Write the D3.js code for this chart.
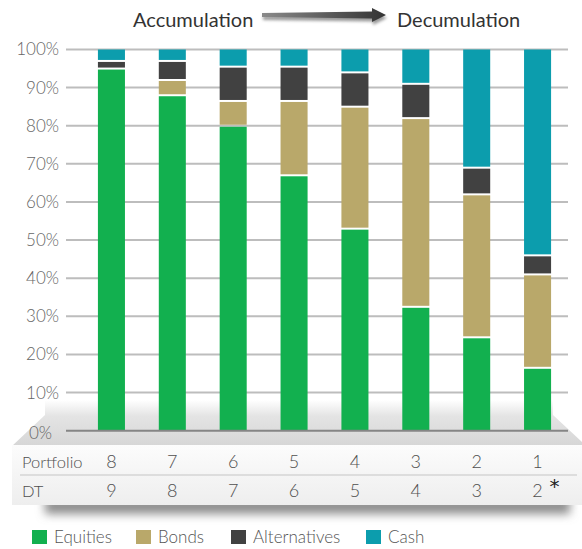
<!DOCTYPE html>
<html>
<head>
<meta charset="utf-8">
<script src="https://cdn.jsdelivr.net/npm/d3@7"></script>
<style>
  body { margin: 0; background: #fff; }
  svg { display: block; font-family: "Lato", "Noto Sans", sans-serif; }
</style>
</head>
<body>
<div id="chart"></div>
<script>
// data
const portfolios = ["8", "7", "6", "5", "4", "3", "2", "1"];
const dtLabels = ["9", "8", "7", "6", "5", "4", "3", "2"];
const equities =     [95, 88, 80,  67,  53, 32.5, 24.5, 16.5];
const bonds =        [0,  4,  6.5, 19.5, 32, 49.5, 37.5, 24.5];
const alternatives = [2,  5,  9,   9,   9,  9,    7,    5];
const cash =         [3,  3,  4.5, 4.5, 6,  9,    31,   54];
const yTicks = [10, 20, 30, 40, 50, 60, 70, 80, 90, 100];
const seriesNames = ["Equities", "Bonds", "Alternatives", "Cash"];
const seriesColors = ["#12b04f", "#b9a86a", "#414141", "#0c9dad"];

const W = 582, H = 549;

const svg = d3.select("#chart").append("svg")
  .attr("width", W)
  .attr("height", H);

const defs = svg.append("defs");

// gradients / filters for the "platform" look
const platGrad = defs.append("linearGradient").attr("id", "plat")
  .attr("x1", 0).attr("y1", 0).attr("x2", 0).attr("y2", 1);
platGrad.append("stop").attr("offset", "0%").attr("stop-color", "#ffffff");
platGrad.append("stop").attr("offset", "35%").attr("stop-color", "#e4e4e4");
platGrad.append("stop").attr("offset", "100%").attr("stop-color", "#d6d6d6");

const panelGrad = defs.append("linearGradient").attr("id", "panel")
  .attr("x1", 0).attr("y1", 0).attr("x2", 0).attr("y2", 1);
panelGrad.append("stop").attr("offset", "0%").attr("stop-color", "#fcfcfc");
panelGrad.append("stop").attr("offset", "100%").attr("stop-color", "#eeeeee");

const arrowGrad = defs.append("linearGradient").attr("id", "arrowg")
  .attr("x1", 0).attr("y1", 0).attr("x2", 1).attr("y2", 0);
arrowGrad.append("stop").attr("offset", "0%").attr("stop-color", "#8a8a8a");
arrowGrad.append("stop").attr("offset", "100%").attr("stop-color", "#333333");

defs.append("filter").attr("id", "blur")
  .attr("x", "-20%").attr("y", "-100%").attr("width", "140%").attr("height", "300%")
  .append("feGaussianBlur").attr("stdDeviation", 5);
defs.append("filter").attr("id", "blur2")
  .attr("x", "-20%").attr("y", "-100%").attr("width", "140%").attr("height", "300%")
  .append("feGaussianBlur").attr("stdDeviation", 1.5);

// scales
const x = d3.scaleBand()
  .domain(portfolios)
  .range([81, 568])
  .paddingInner(0.556)
  .paddingOuter(0.278);

const y = d3.scaleLinear()
  .domain([0, 100])
  .range([430.7, 49.5]);

// platform under the plot
svg.append("path")
  .attr("d", "M45,400 L553,400 L553,415 L582,442 L582,446 L12,446 L45,415 Z")
  .attr("fill", "url(#plat)");

// shadow under the table panel
svg.append("rect")
  .attr("x", 45).attr("y", 498).attr("width", 525).attr("height", 16)
  .attr("fill", "#8d8d8d")
  .attr("filter", "url(#blur)");

// table panel
svg.append("rect")
  .attr("x", 12).attr("y", 445).attr("width", 570).attr("height", 60)
  .attr("fill", "url(#panel)");

svg.append("line")
  .attr("x1", 20).attr("x2", 577)
  .attr("y1", 475).attr("y2", 475)
  .attr("stroke", "#d4d4d4").attr("stroke-width", 1.5);

// gridlines
svg.append("g")
  .selectAll("line")
  .data(yTicks)
  .join("line")
    .attr("x1", 66).attr("x2", 568)
    .attr("y1", d => y(d)).attr("y2", d => y(d))
    .attr("stroke", "#bdbdbd")
    .attr("stroke-width", 2);

// y labels
const yLab = svg.append("g")
  .attr("font-size", 17)
  .attr("font-weight", 300)
  .attr("fill", "#666")
  .attr("text-anchor", "end");
yLab.selectAll("text")
  .data(yTicks)
  .join("text")
    .attr("x", 59)
    .attr("y", d => y(d))
    .attr("dy", "0.35em")
    .text(d => d + "%");
yLab.append("text")
  .attr("x", 52).attr("y", y(0) + 2)
  .attr("dy", "0.35em")
  .text("0%");

// stacked bars
const rows = portfolios.map((p, i) => ({
  portfolio: p,
  Equities: equities[i],
  Bonds: bonds[i],
  Alternatives: alternatives[i],
  Cash: cash[i]
}));

const color = d3.scaleOrdinal()
  .domain(seriesNames)
  .range(seriesColors);

const stackedData = d3.stack().keys(seriesNames)(rows);

svg.append("g")
  .selectAll("g")
  .data(stackedData)
  .join("g")
    .attr("fill", d => color(d.key))
  .selectAll("rect")
  .data(d => d.filter(s => s[1] - s[0] > 0))
  .join("rect")
    .attr("x", d => x(d.data.portfolio))
    .attr("width", x.bandwidth())
    .attr("y", d => y(d[1]) + (d[1] < 99.9 ? 1 : 0))
    .attr("height", d => (y(d[0]) - y(d[1])) - (d[1] < 99.9 ? 1 : 0) - (d[0] > 0 ? 1 : 0));

// 0% axis line
svg.append("line")
  .attr("x1", 66).attr("x2", 568)
  .attr("y1", y(0)).attr("y2", y(0))
  .attr("stroke", "#858585")
  .attr("stroke-width", 2);

// table text
const tbl = svg.append("g")
  .attr("font-size", 18)
  .attr("font-weight", 300)
  .attr("fill", "#4f4f4f");
tbl.append("text").attr("x", 22).attr("y", 468).attr("font-size", 16.5).text("Portfolio");
tbl.append("text").attr("x", 22).attr("y", 497).attr("font-size", 16.5).text("DT");
tbl.selectAll(".pf")
  .data(portfolios)
  .join("text")
    .attr("class", "pf")
    .attr("x", d => x(d) + x.bandwidth() / 2)
    .attr("y", 468)
    .attr("text-anchor", "middle")
    .text(d => d);
tbl.selectAll(".dt")
  .data(dtLabels)
  .join("text")
    .attr("class", "dt")
    .attr("x", (d, i) => x(portfolios[i]) + x.bandwidth() / 2)
    .attr("y", 497)
    .attr("text-anchor", "middle")
    .text(d => d);
tbl.append("text")
  .attr("x", x("1") + x.bandwidth() / 2 + 12)
  .attr("y", 493)
  .attr("font-family", "DejaVu Sans")
  .attr("font-weight", 400)
  .attr("font-size", 20)
  .attr("fill", "#222")
  .text("*");

// legend
const legendX = [32, 136, 231, 366];
const legend = svg.append("g")
  .selectAll("g")
  .data(seriesNames)
  .join("g")
    .attr("transform", (d, i) => `translate(${legendX[i]}, 530)`);
legend.append("rect")
  .attr("width", 15).attr("height", 14)
  .attr("fill", d => color(d));
legend.append("text")
  .attr("x", 22).attr("y", 7)
  .attr("dy", "0.35em")
  .attr("font-size", 17)
  .attr("font-weight", 300)
  .attr("fill", "#555")
  .text(d => d);

// title with arrow
const title = svg.append("g")
  .attr("font-size", 20)
  .attr("fill", "#333");
title.append("text").attr("x", 133).attr("y", 27).text("Accumulation");
title.append("text").attr("x", 397).attr("y", 27).text("Decumulation");

const arrowPath = "M262,13 L372,11.5 L372,8 L386,15 L372,22 L372,18.5 L262,17 Z";
svg.append("path")
  .attr("d", arrowPath)
  .attr("transform", "translate(1,3)")
  .attr("fill", "#9a9a9a")
  .attr("filter", "url(#blur2)");
svg.append("path")
  .attr("d", arrowPath)
  .attr("fill", "url(#arrowg)");
</script>
</body>
</html>
